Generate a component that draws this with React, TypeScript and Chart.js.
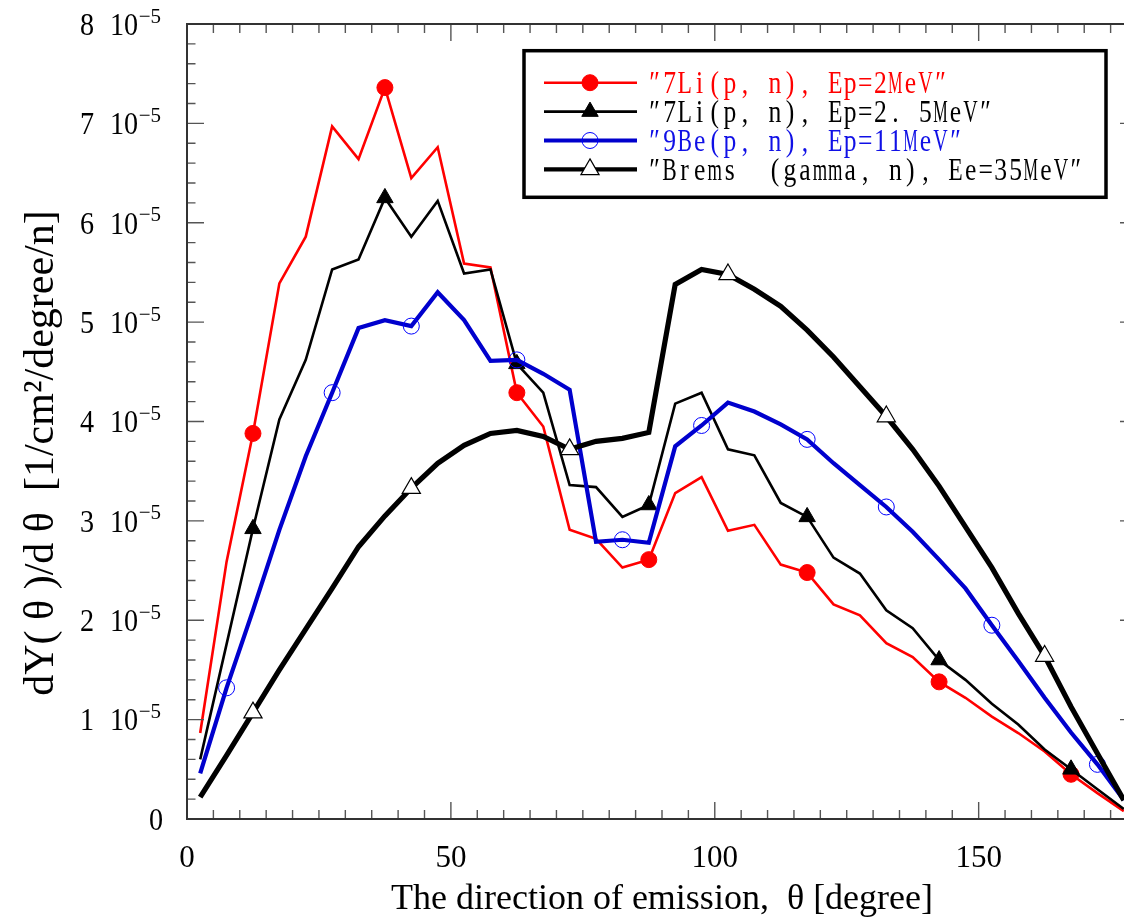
import React, { useEffect, useRef } from 'react';
import { Chart, registerables } from 'chart.js';

Chart.register(...registerables);

// Emission angle θ [degree] (bin centres)
const angles = [2.5, 7.5, 12.5, 17.5, 22.5, 27.5, 32.5, 37.5, 42.5, 47.5, 52.5, 57.5, 62.5, 67.5, 72.5, 77.5, 82.5, 87.5, 92.5, 97.5, 102.5, 107.5, 112.5, 117.5, 122.5, 127.5, 132.5, 137.5, 142.5, 147.5, 152.5, 157.5, 162.5, 167.5, 172.5, 177.5];

// dY(θ)/dθ in units of 1e-5 [1/cm²/degree/n]
const li7Ep2 = [0.865, 2.59, 3.88, 5.39, 5.86, 6.97, 6.64, 7.36, 6.45, 6.76, 5.59, 5.55, 4.29, 3.95, 2.91, 2.82, 2.53, 2.61, 3.28, 3.44, 2.90, 2.96, 2.56, 2.48, 2.16, 2.05, 1.77, 1.63, 1.38, 1.22, 1.03, 0.865, 0.68, 0.45, 0.26, 0.08];
const li7Ep25 = [0.60, 1.76, 2.92, 4.02, 4.62, 5.53, 5.63, 6.25, 5.86, 6.22, 5.49, 5.53, 4.58, 4.29, 3.36, 3.34, 3.04, 3.16, 4.18, 4.29, 3.72, 3.66, 3.18, 3.04, 2.63, 2.47, 2.10, 1.92, 1.60, 1.40, 1.16, 0.95, 0.70, 0.50, 0.30, 0.10];
const be9Ep11 = [0.46, 1.32, 2.10, 2.91, 3.65, 4.29, 4.94, 5.02, 4.96, 5.30, 5.02, 4.61, 4.62, 4.48, 4.32, 2.79, 2.81, 2.78, 3.75, 3.96, 4.19, 4.10, 3.97, 3.82, 3.58, 3.36, 3.14, 2.89, 2.61, 2.32, 1.95, 1.59, 1.22, 0.87, 0.55, 0.19];
const bremsEe35 = [0.22, 0.64, 1.07, 1.50, 1.91, 2.32, 2.74, 3.05, 3.33, 3.58, 3.76, 3.88, 3.91, 3.85, 3.72, 3.80, 3.83, 3.89, 5.38, 5.53, 5.48, 5.33, 5.16, 4.92, 4.65, 4.35, 4.05, 3.72, 3.35, 2.94, 2.53, 2.07, 1.64, 1.13, 0.66, 0.19];

// angles at which a symbol is drawn on each curve
const li7Ep2Markers = [12.5, 37.5, 62.5, 87.5, 117.5, 142.5, 167.5];
const li7Ep25Markers = [12.5, 37.5, 62.5, 87.5, 117.5, 142.5, 167.5];
const be9Ep11Markers = [7.5, 27.5, 42.5, 62.5, 82.5, 97.5, 117.5, 132.5, 152.5, 172.5];
const bremsEe35Markers = [12.5, 42.5, 72.5, 102.5, 132.5, 162.5];

const seriesLabels = [
  '″7Li(p, n), Ep=2MeV″',
  '″7Li(p, n), Ep=2. 5MeV″',
  '″9Be(p, n), Ep=11MeV″',
  '″Brems  (gamma, n), Ee=35MeV″',
];

const xTickValues = [0, 50, 100, 150];
const yTickValues = [0, 1, 2, 3, 4, 5, 6, 7, 8];
const yExponent = '−5';
const xTitle = 'The direction of emission,  θ [degree]';
const yTitle = 'dY( θ )/d θ  [1/cm²/degree/n]';

const seriesValues = [li7Ep2, li7Ep25, be9Ep11, bremsEe35];
const seriesMarkers = [li7Ep2Markers, li7Ep25Markers, be9Ep11Markers, bremsEe35Markers];

const seriesStyles = [
  { color: '#ff0000', text: '#ff0000', width: 2.6, point: 'circle', radius: 8, fill: '#ff0000', stroke: '#ff0000', pw: 1 },
  { color: '#000000', text: '#000000', width: 2.6, point: 'triangle', radius: 9.5, fill: '#000000', stroke: '#000000', pw: 1 },
  { color: '#0000cd', text: '#1010e6', width: 4.2, point: 'circle', radius: 8, fill: 'rgba(0,0,0,0)', stroke: '#0000ff', pw: 1 },
  { color: '#000000', text: '#000000', width: 5.2, point: 'triangle', radius: 10.5, fill: '#ffffff', stroke: '#000000', pw: 1.2 },
];

const SERIF = '"Liberation Serif", "Times New Roman", serif';

const CANVAS_W = 1160;
const CANVAS_H = 921;

function drawMarker(ctx: CanvasRenderingContext2D, style: string, x: number, y: number, r: number, fill: string, stroke: string, lw: number) {
  ctx.beginPath();
  if (style === 'circle') {
    ctx.arc(x, y, r, 0, Math.PI * 2);
  } else {
    const a = (2 * Math.PI) / 3;
    ctx.moveTo(x, y - r);
    ctx.lineTo(x + r * Math.sin(a), y - r * Math.cos(a));
    ctx.lineTo(x + r * Math.sin(2 * a), y - r * Math.cos(2 * a));
    ctx.closePath();
  }
  ctx.fillStyle = fill;
  ctx.fill();
  if (lw > 0) {
    ctx.strokeStyle = stroke;
    ctx.lineWidth = lw;
    ctx.stroke();
  }
}

// draws text in fixed-width cells (half-width mincho look)
function drawCellText(ctx: CanvasRenderingContext2D, text: string, x: number, baseline: number, cell: number, size: number, color: string) {
  ctx.save();
  ctx.font = `${size}px ${SERIF}`;
  ctx.fillStyle = color;
  ctx.textAlign = 'center';
  ctx.textBaseline = 'alphabetic';
  const chars = Array.from(text);
  chars.forEach((ch, k) => {
    if (ch === ' ') return;
    const w = ctx.measureText(ch).width;
    const sx = w > 0 ? Math.min(0.8, (cell * 0.96) / w) : 1;
    ctx.save();
    ctx.translate(x + k * cell + cell / 2, baseline);
    ctx.scale(sx, 1);
    ctx.fillText(ch, 0, 0);
    ctx.restore();
  });
  ctx.restore();
}

const boxAxesPlugin = {
  id: 'boxAxes',
  afterDatasetsDraw(chart: any) {
    const { ctx, chartArea: a, scales } = chart;
    const x = scales.x;
    const y = scales.y;
    ctx.save();
    ctx.strokeStyle = '#555';
    ctx.lineWidth = 1.4;
    ctx.beginPath();
    for (let v = x.min; v <= x.max + 1e-9; v += 5) {
      const px = x.getPixelForValue(v);
      const len = Math.abs(v % 50) < 1e-6 ? 17 : 9;
      ctx.moveTo(px, a.bottom);
      ctx.lineTo(px, a.bottom - len);
      ctx.moveTo(px, a.top);
      ctx.lineTo(px, a.top + len);
    }
    for (let i = 0; i <= (y.max - y.min) * 5; i++) {
      const v = y.min + i * 0.2;
      const py = y.getPixelForValue(v);
      const len = i % 5 === 0 ? 17 : 8.5;
      ctx.moveTo(a.left, py);
      ctx.lineTo(a.left + len, py);
      ctx.moveTo(a.right, py);
      ctx.lineTo(a.right - len, py);
    }
    ctx.stroke();
    ctx.strokeStyle = '#333';
    ctx.lineWidth = 2;
    ctx.strokeRect(a.left, a.top, a.right - a.left, a.bottom - a.top);

    // y tick labels: "n 10^-5"
    ctx.fillStyle = '#000';
    ctx.textBaseline = 'alphabetic';
    const sx = 0.88;
    for (const v of yTickValues) {
      const py = y.getPixelForValue(v);
      const base = py + 10.8;
      ctx.font = `32px ${SERIF}`;
      if (v === 0) {
        ctx.save();
        ctx.translate(a.left - 24, base);
        ctx.scale(sx, 1);
        ctx.textAlign = 'right';
        ctx.fillText(String(v), 0, 0);
        ctx.restore();
        continue;
      }
      ctx.save();
      ctx.translate(a.left - 93, base);
      ctx.scale(sx, 1);
      ctx.textAlign = 'right';
      ctx.fillText(String(v), 0, 0);
      ctx.restore();
      const tenX = a.left - 77;
      ctx.save();
      ctx.translate(tenX, base);
      ctx.scale(sx, 1);
      ctx.textAlign = 'left';
      ctx.fillText('10', 0, 0);
      const w10 = ctx.measureText('10').width * sx;
      ctx.restore();
      ctx.font = `21px ${SERIF}`;
      ctx.textAlign = 'left';
      ctx.fillText(yExponent, tenX + w10 + 0.5, py - 1.5);
    }
    ctx.restore();
  },
  afterDraw(chart: any) {
    const { ctx, chartArea: a } = chart;
    const left = a.left + 337;
    const top = a.top + 26.7;
    const right = a.left + 919;
    const bottom = a.top + 173.3;
    ctx.save();
    ctx.fillStyle = '#fff';
    ctx.fillRect(left, top, right - left, bottom - top);
    ctx.strokeStyle = '#000';
    ctx.lineWidth = 3.5;
    ctx.strokeRect(left, top, right - left, bottom - top);
    chart.data.datasets.forEach((ds: any, i: number) => {
      const s = seriesStyles[i];
      const rowY = top + 32 + i * 28.9;
      ctx.beginPath();
      ctx.strokeStyle = s.color;
      ctx.lineWidth = s.width > 4.5 ? 4.2 : s.width;
      ctx.moveTo(left + 20, rowY);
      ctx.lineTo(left + 113, rowY);
      ctx.stroke();
      drawMarker(ctx, s.point, left + 66, rowY, s.radius, s.fill, s.stroke, s.pw);
      drawCellText(ctx, ds.label, left + 123, rowY + 10.6, 15.05, 32, s.text);
    });
    ctx.restore();
  },
};

export default function App() {
  const ref = useRef<HTMLCanvasElement>(null);

  useEffect(() => {
    if (!ref.current) return;
    const datasets = seriesValues.map((vals, i) => {
      const s = seriesStyles[i];
      const markers = seriesMarkers[i];
      const rad = (c: any) => (c.raw && markers.includes(c.raw.x) ? s.radius : 0);
      return {
        label: seriesLabels[i],
        data: angles.map((a, j) => ({ x: a, y: vals[j] })),
        borderColor: s.color,
        backgroundColor: s.color,
        borderWidth: s.width,
        pointStyle: s.point,
        pointRadius: rad,
        pointHoverRadius: rad,
        pointBackgroundColor: s.fill,
        pointBorderColor: s.stroke,
        pointBorderWidth: s.pw,
        tension: 0,
        fill: false,
        order: seriesValues.length - i,
      };
    });

    const chart = new Chart(ref.current, {
      type: 'line',
      data: { datasets },
      options: {
        animation: false,
        responsive: false,
        devicePixelRatio: 1,
        events: [],
        layout: { padding: { left: 0, top: 24, right: CANVAS_W - 1137, bottom: 0 } },
        plugins: {
          legend: { display: false },
          tooltip: { enabled: false },
        },
        scales: {
          x: {
            type: 'linear',
            min: 0,
            max: 180,
            afterBuildTicks: (axis: any) => {
              axis.ticks = xTickValues.map((v) => ({ value: v }));
            },
            afterFit: (axis: any) => {
              axis.height = CANVAS_H - 819;
            },
            grid: { display: false, drawTicks: false },
            border: { display: false },
            ticks: {
              autoSkip: false,
              maxRotation: 0,
              padding: 21,
              color: '#000',
              font: { family: SERIF, size: 31 },
            },
            title: {
              display: true,
              text: xTitle,
              color: '#000',
              font: { family: SERIF, size: 36 },
              padding: { top: 0, bottom: 0 },
            },
          },
          y: {
            type: 'linear',
            min: 0,
            max: 8,
            afterFit: (axis: any) => {
              axis.width = 187;
            },
            grid: { display: false, drawTicks: false },
            border: { display: false },
            ticks: { display: false },
            title: {
              display: true,
              text: yTitle + '      ',
              color: '#000',
              font: { family: SERIF, size: 42 },
              padding: { top: 17, bottom: 0 },
            },
          },
        },
      },
      plugins: [boxAxesPlugin],
    } as any);
    return () => chart.destroy();
  }, []);

  return (
    <div
      style={{
        position: 'fixed',
        left: 0,
        top: 0,
        width: 1124,
        height: 921,
        overflow: 'hidden',
        background: '#fff',
      }}
    >
      <canvas ref={ref} width={CANVAS_W} height={CANVAS_H} style={{ display: 'block', width: CANVAS_W, height: CANVAS_H }} />
    </div>
  );
}
